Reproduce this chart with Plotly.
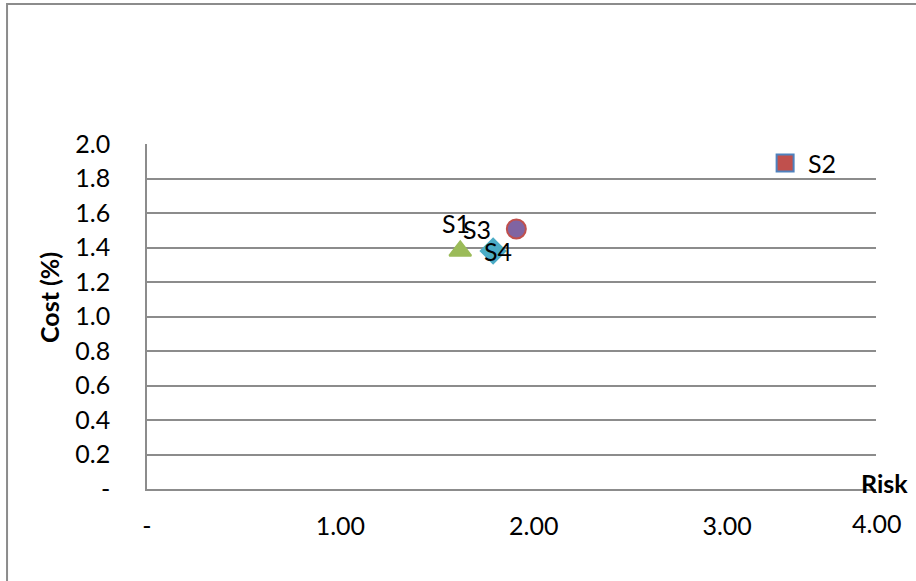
import plotly.graph_objects as go

# Data
series_names = ["S1", "S2", "S3", "S4"]
risk_values = [1.62, 3.30, 1.91, 1.79]
cost_values = [1.38, 1.89, 1.507, 1.38]
marker_symbols = ["triangle-up", "square", "circle", "diamond"]
marker_fills = ["#9BBB59", "#C0504D", "#8064A2", "#4BACC6"]
marker_lines = ["#9BBB59", "#4F81BD", "#C0504D", "#4BACC6"]
marker_sizes = [19, 17, 19, 19]
# label offsets in pixels relative to the marker (dx, dy)
label_offsets = [(-4, 28), (37, 0), (-39, 0), (5, 0)]

x_tick_vals = [0, 1, 2, 3]
x_tick_text = ["-", "1.00", "2.00", "3.00"]
x_last_label = "4.00"
x_max = 3.77
y_tick_vals = [0, 0.2, 0.4, 0.6, 0.8, 1.0, 1.2, 1.4, 1.6, 1.8, 2.0]
y_tick_text = ["-", "0.2", "0.4", "0.6", "0.8", "1.0", "1.2", "1.4", "1.6", "1.8", "2.0"]

FONT = "Lato, Carlito, Calibri, sans-serif"
FS = 25
GRID = "#8C8C8C"

fig = go.Figure()
for name, x, y, sym, fc, lc, sz in zip(series_names, risk_values, cost_values,
                                       marker_symbols, marker_fills, marker_lines,
                                       marker_sizes):
    fig.add_trace(go.Scatter(
        x=[x], y=[y], name=name, mode="markers",
        marker=dict(symbol=sym, size=sz, color=fc, line=dict(color=lc, width=2)),
        cliponaxis=False,
    ))

annotations = []
for name, x, y, (dx, dy) in zip(series_names, risk_values, cost_values, label_offsets):
    annotations.append(dict(text=name, x=x, y=y, xref="x", yref="y", showarrow=False,
                            xshift=dx, yshift=dy, xanchor="center", yanchor="middle",
                            font=dict(family=FONT, size=FS, color="#000")))

annotations += [
    dict(text="<b>Cost (%)</b>", xref="paper", yref="paper",
         x=(49 - 147) / 729, y=(489 - 298) / 345, textangle=-90,
         showarrow=False, xanchor="center", yanchor="middle",
         font=dict(family=FONT, size=FS, color="#000")),
    dict(text="<b>Risk</b>", xref="paper", yref="paper",
         x=(884 - 147) / 729, y=(489 - 483) / 345,
         showarrow=False, xanchor="center", yanchor="middle",
         font=dict(family=FONT, size=FS, color="#000")),
    dict(text=x_last_label, xref="x", yref="paper", x=x_max,
         y=(489 - 523) / 345, showarrow=False, xanchor="center", yanchor="middle",
         font=dict(family=FONT, size=FS, color="#000")),
]

fig.update_layout(
    width=916, height=581,
    margin=dict(l=147, r=40, t=144, b=92),
    paper_bgcolor="white", plot_bgcolor="white",
    showlegend=False,
    font=dict(family=FONT, size=FS, color="#000000"),
    xaxis=dict(
        range=[0, x_max], tickmode="array", tickvals=x_tick_vals, ticktext=x_tick_text,
        showgrid=False, zeroline=False, showline=True, linecolor=GRID, linewidth=1.5,
        ticks="", ticklabelstandoff=14, tickfont=dict(family=FONT, size=FS, color="#000"),
    ),
    yaxis=dict(
        range=[0, 2.0], tickmode="array", tickvals=y_tick_vals, ticktext=y_tick_text,
        showgrid=True, gridcolor=GRID, gridwidth=1.5, zeroline=False,
        showline=True, linecolor=GRID, linewidth=1.5,
        ticks="", ticklabelstandoff=30, tickfont=dict(family=FONT, size=FS, color="#000"),
    ),
    shapes=[dict(type="rect", xref="paper", yref="paper",
                 x0=-0.192, x1=1.1, y0=-0.35, y1=1.4058,
                 line=dict(color="#8C8C8C", width=2), fillcolor="rgba(0,0,0,0)",
                 layer="below")],
    annotations=annotations,
)

fig.write_html("out.html")
